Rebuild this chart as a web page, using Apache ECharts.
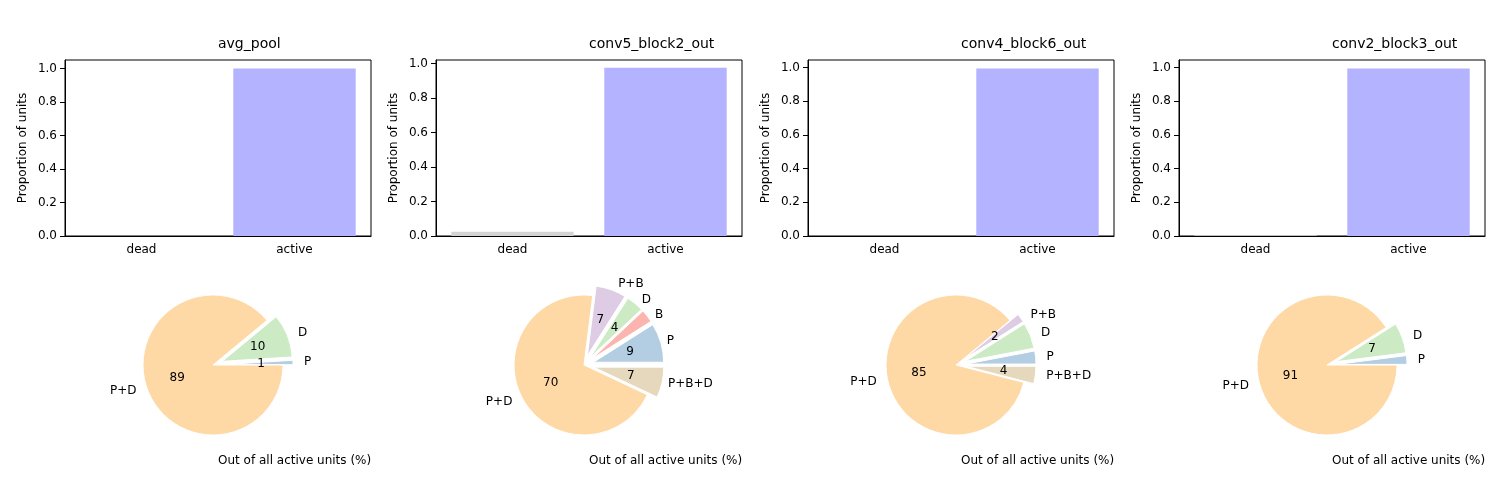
<!DOCTYPE html>
<html><head><meta charset="utf-8">
<script src="https://cdn.jsdelivr.net/npm/echarts@6/dist/echarts.min.js"></script>
<style>body{margin:0}#chart{width:1500px;height:500px}</style>
</head><body><div id="chart"></div>
<script>
const titles = ['avg_pool', 'conv5_block2_out', 'conv4_block6_out', 'conv2_block3_out'];
const barCats = ['dead', 'active'];
const deadVals = [0, 0.025, 0, 0.005];
const activeVals = [1.0, 0.975, 0.995, 0.995];
const yMax = [1.05, 1.02, 1.045, 1.045];
const pieNames = [
    ['P', 'D', 'P+D'],
    ['P', 'B', 'D', 'P+B', 'P+D', 'P+B+D'],
    ['P', 'D', 'P+B', 'P+D', 'P+B+D'],
    ['P', 'D', 'P+D']
];
const pieVals = [
    [1, 10, 89],
    [9, 3, 4, 7, 70, 7],
    [3, 6, 2, 85, 4],
    [2, 7, 91]
];
const colorOf = {'P': '#b3cde3', 'B': '#fbb4ae', 'D': '#ccebc5', 'P+B': '#decbe4', 'P+D': '#fed9a6', 'P+B+D': '#e5d8bd'};

const lefts = [65, 436, 808, 1179];
const W = 306;
const font = 'DejaVu Sans';

const chart = echarts.init(document.getElementById('chart'));
const grid = [], xAxis = [], yAxis = [], series = [], graphic = [];

lefts.forEach((l, i) => {
    grid.push({left: l, top: 60, width: W, height: 176, show: true, borderColor: '#000', borderWidth: 1, backgroundColor: 'transparent'});
    xAxis.push({type: 'category', gridIndex: i, data: barCats,
        axisLine: {lineStyle: {color: '#000'}}, axisTick: {alignWithLabel: true, lineStyle: {color: '#000'}},
        axisLabel: {color: '#000', fontSize: 12, fontFamily: font}});
    yAxis.push({type: 'value', gridIndex: i, min: 0, max: yMax[i], interval: 0.2,
        name: 'Proportion of units', nameLocation: 'middle', nameGap: 36, nameRotate: 90,
        nameTextStyle: {color: '#000', fontSize: 12, fontFamily: font},
        splitLine: {show: false}, axisLine: {show: true, lineStyle: {color: '#000'}},
        axisTick: {show: true, lineStyle: {color: '#000'}},
        axisLabel: {color: '#000', fontSize: 12, fontFamily: font, showMaxLabel: false, formatter: v => v.toFixed(1)}});
    series.push({type: 'bar', xAxisIndex: i, yAxisIndex: i, barCategoryGap: '20%',
        data: [{value: deadVals[i], itemStyle: {color: '#d3d3d3'}}, {value: activeVals[i], itemStyle: {color: '#b3b3ff'}}]});

    const cx = l + W / 2 - 5;
    const items = pieNames[i].map((n, k) => ({name: n, value: pieVals[i][k], selected: n !== 'P+D', itemStyle: {color: colorOf[n]}}));
    const base = {type: 'pie', center: [cx, 365], radius: 70, startAngle: 0, clockwise: false,
        selectedMode: 'multiple', selectedOffset: 10, animation: false, emphasis: {disabled: true},
        itemStyle: {borderColor: '#fff', borderWidth: 1}};
    series.push(Object.assign({}, base, {data: items,
        label: {position: 'outside', formatter: '{b}', color: '#000', fontSize: 12, fontFamily: font},
        labelLine: {show: false, length: 6, length2: 0}}));
    series.push(Object.assign({}, base, {data: items.map(d => Object.assign({}, d)),
        label: {position: 'inside', formatter: '{c}', color: '#000', fontSize: 12, fontFamily: font}}));

    graphic.push({type: 'text', left: l + W / 2, top: 37, style: {text: titles[i], fontSize: 14, fontFamily: font, fill: '#000', textAlign: 'center'}});
    graphic.push({type: 'text', left: l + W / 2, top: 455, style: {text: 'Out of all active units (%)', fontSize: 12, fontFamily: font, fill: '#000', textAlign: 'center'}});
});

chart.setOption({animation: false, grid, xAxis, yAxis, series, graphic});
</script></body></html>
